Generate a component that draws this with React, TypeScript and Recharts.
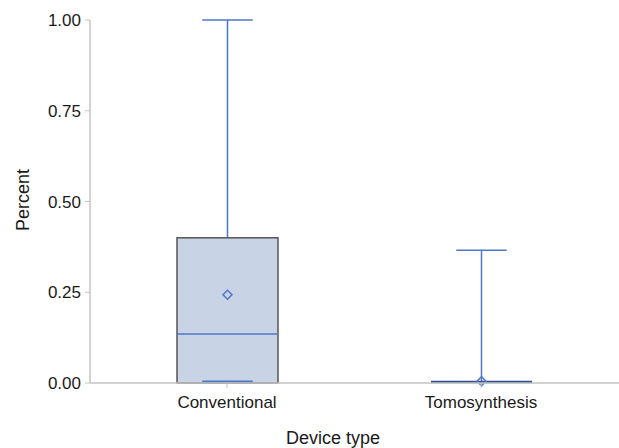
import { ComposedChart, Bar, XAxis, YAxis } from 'recharts'

const categories = ['Conventional', 'Tomosynthesis']
const mins = [0, 0]
const q1s = [0, 0]
const medians = [0.135, 0]
const q3s = [0.4, 0]
const maxs = [1.0, 0.366]
const means = [0.243, 0.005]
const yTicks = [0, 0.25, 0.5, 0.75, 1]

const data = categories.map((name, i) => ({
  name,
  min: mins[i],
  q1: q1s[i],
  median: medians[i],
  q3: q3s[i],
  max: maxs[i],
  mean: means[i],
}))

const WHISKER = '#4f77c8'
const BOX_FILL = '#c9d3e6'
const BOX_EDGE = '#555555'
const FONT = '"Liberation Sans", Arial, Helvetica, sans-serif'

const BoxShape = (props: any) => {
  const { x, y, width, height, payload } = props
  const top = Math.min(y, y + height)
  const h = Math.abs(height)
  const span = payload.max - payload.min || 1
  const toY = (v: number) => top + (h * (payload.max - v)) / span
  const cx = x + width / 2
  const capHalf = width / 4
  const yMax = toY(payload.max)
  const yMin = toY(payload.min)
  const yQ1 = toY(payload.q1)
  const yQ3 = toY(payload.q3)
  const yMed = toY(payload.median)
  const yMean = toY(payload.mean)
  const collapsed = payload.q3 === payload.q1
  const d = 4.5
  return (
    <g>
      {/* whiskers */}
      <line x1={cx} x2={cx} y1={yMax} y2={yQ3} stroke={WHISKER} strokeWidth={1.5} />
      <line x1={cx - capHalf} x2={cx + capHalf} y1={yMax} y2={yMax} stroke={WHISKER} strokeWidth={1.5} />
      <line x1={cx} x2={cx} y1={yQ1} y2={yMin} stroke={WHISKER} strokeWidth={1.5} />
      {/* box */}
      {collapsed ? (
        <line x1={x} x2={x + width} y1={yMed - 1} y2={yMed - 1} stroke="#2d4d8e" strokeWidth={2.5} />
      ) : (
        <>
          <rect
            x={x}
            y={yQ3}
            width={width}
            height={yQ1 - yQ3}
            fill={BOX_FILL}
            stroke={BOX_EDGE}
            strokeWidth={1.5}
          />
          <line x1={x} x2={x + width} y1={yMed} y2={yMed} stroke={WHISKER} strokeWidth={1.5} />
          <line x1={cx - capHalf} x2={cx + capHalf} y1={yMin - 1.5} y2={yMin - 1.5} stroke={WHISKER} strokeWidth={2} />
        </>
      )}
      {/* mean */}
      <polygon
        points={`${cx},${yMean - d} ${cx + d},${yMean} ${cx},${yMean + d} ${cx - d},${yMean}`}
        fill="none"
        stroke={WHISKER}
        strokeWidth={1.5}
      />
    </g>
  )
}

const YLabel = () => (
  <text
    x={23}
    y={200}
    transform="rotate(-90, 23, 200)"
    textAnchor="middle"
    dominantBaseline="central"
    fontSize={18}
    fontFamily={FONT}
    fill="#1a1a1a"
  >
    Percent
  </text>
)

const XLabel = () => (
  <text
    x={333}
    y={438}
    textAnchor="middle"
    dominantBaseline="central"
    fontSize={18}
    fontFamily={FONT}
    fill="#1a1a1a"
  >
    Device type
  </text>
)

export default function App() {
  return (
    <div style={{ width: 619, height: 448, background: '#fff' }}>
      <style>{'body{margin:0}'}</style>
      <ComposedChart
        width={619}
        height={448}
        data={data}
        margin={{ top: 20, right: 0, bottom: 35, left: 0 }}
      >
        <XAxis
          dataKey="name"
          padding={{ left: 10, right: 11 }}
          axisLine={{ stroke: '#c4c4c4', strokeWidth: 1.5 }}
          tickLine={{ stroke: '#c4c4c4' }}
          tickSize={5}
          tickMargin={8}
          height={30}
          tick={{ fontSize: 17, fill: '#1a1a1a', fontFamily: FONT }}
          label={<XLabel />}
        />
        <YAxis
          type="number"
          domain={[0, 1]}
          ticks={yTicks}
          width={90}
          tickFormatter={(v: number) => v.toFixed(2)}
          axisLine={{ stroke: '#c4c4c4', strokeWidth: 1.5 }}
          tickLine={{ stroke: '#c4c4c4' }}
          tickSize={5}
          tickMargin={4}
          tick={{ fontSize: 17, fill: '#1a1a1a', fontFamily: FONT }}
          label={<YLabel />}
        />
        <Bar
          dataKey={(d: any) => [d.min, d.max]}
          barSize={101}
          shape={<BoxShape />}
          isAnimationActive={false}
        />
      </ComposedChart>
    </div>
  )
}
